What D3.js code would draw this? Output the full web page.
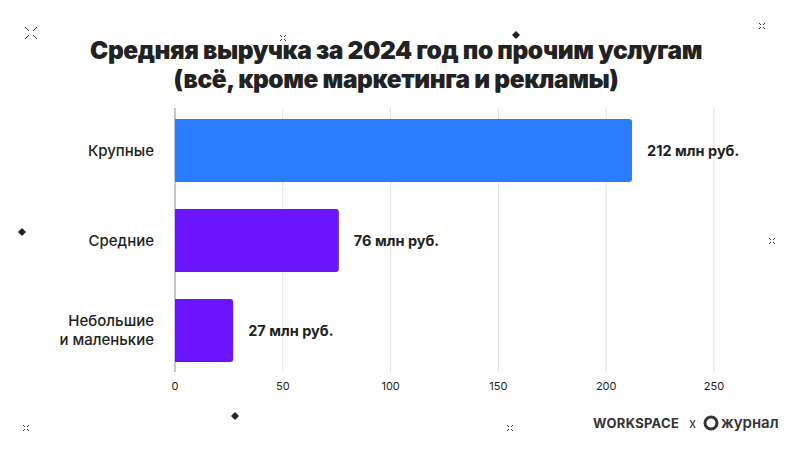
<!DOCTYPE html><html><head><meta charset="utf-8"><script src="https://cdn.jsdelivr.net/npm/d3@7"></script>
<style>body{margin:0;background:#fff}</style></head><body><svg width="800" height="450"></svg><script>
const categories=["Крупные","Средние","Небольшие\nи маленькие"];
const values=[212,76,27];
const labels=["212 млн руб.","76 млн руб.","27 млн руб."];
const colors=["#2a7cff","#6a14ff","#6a14ff"];
const ticks=[0,50,100,150,200,250];
const svg=d3.select("svg");
const x=d3.scaleLinear().domain([0,250]).range([175,714]);
const y=d3.scaleBand().domain(categories).range([119,362]).paddingInner(0.3).paddingOuter(0);
const f="Inter, 'Open Sans', sans-serif";
svg.append("g").selectAll("line").data(ticks).join("line").attr("x1",d=>x(d)).attr("x2",d=>x(d)).attr("y1",108).attr("y2",372).attr("stroke",(d,i)=>i==0?"#8a8f9a":"#dde3ec").attr("stroke-width",1);
svg.append("g").selectAll("text").data(ticks).join("text").attr("x",d=>x(d)).attr("y",390).attr("text-anchor","middle").attr("font-family",f).attr("font-size",11).attr("fill","#222").text(d=>d);
svg.append("g").selectAll("path").data(values).join("path").attr("fill",(d,i)=>colors[i]).attr("d",(d,i)=>{const x0=x(0),x1=x(d),y0=y(categories[i]),h=y.bandwidth(),r=3;return `M${x0},${y0}H${x1-r}Q${x1},${y0} ${x1},${y0+r}V${y0+h-r}Q${x1},${y0+h} ${x1-r},${y0+h}H${x0}Z`;});
svg.append("g").selectAll("text").data(values).join("text").attr("x",d=>x(d)+15).attr("y",(d,i)=>y(categories[i])+y.bandwidth()/2+5).attr("font-family",f).attr("font-weight",700).attr("font-size",14.5).attr("fill","#222").text((d,i)=>labels[i]);
categories.forEach((c,i)=>{const lines=c.split("\n");const t=svg.append("text").attr("text-anchor","end").attr("font-family",f).attr("font-size",15).attr("fill","#222").attr("font-weight",500);
lines.forEach((l,j)=>t.append("tspan").attr("x",154).attr("y",y(c)+y.bandwidth()/2+5+(j-(lines.length-1)/2)*19).text(l));});
const tt=svg.append("text").attr("text-anchor","middle").attr("font-family",f).attr("font-weight",900).attr("font-size",24.5).attr("fill","#222").attr("letter-spacing",-0.4);
tt.append("tspan").attr("x",396).attr("y",59).text("Средняя выручка за 2024 год по прочим услугам");
tt.append("tspan").attr("x",396).attr("y",88).text("(всё, кроме маркетинга и рекламы)");
function dia(cx,cy){svg.append("path").attr("d",`M${cx},${cy-4}L${cx+4},${cy}L${cx},${cy+4}L${cx-4},${cy}Z`).attr("fill","#222");}
dia(516,35);dia(22,232);dia(235,416);
function star(cx,cy,s){[[1,1],[1,-1],[-1,1],[-1,-1]].forEach(([a,b])=>svg.append("line").attr("x1",cx+a*s*0.35).attr("y1",cy+b*s*0.35).attr("x2",cx+a*s).attr("y2",cy+b*s).attr("stroke","#333").attr("stroke-width",1));}
star(31,33,6);star(283,38,3);star(762,26,3);star(772,241,3);star(26,428,3);star(510,428,3);
svg.append("text").attr("x",593).attr("y",428).attr("font-family",f).attr("font-weight",700).attr("font-size",13).attr("fill","#333").attr("letter-spacing",0.3).text("WORKSPACE");
svg.append("text").attr("x",689).attr("y",428).attr("font-family",f).attr("font-size",13).attr("fill","#333").text("x");
svg.append("circle").attr("cx",711).attr("cy",423).attr("r",6).attr("fill","none").attr("stroke","#333").attr("stroke-width",3);
svg.append("text").attr("x",721).attr("y",428).attr("font-family",f).attr("font-weight",600).attr("font-size",15).attr("fill","#333").text("журнал");
</script></body></html>
